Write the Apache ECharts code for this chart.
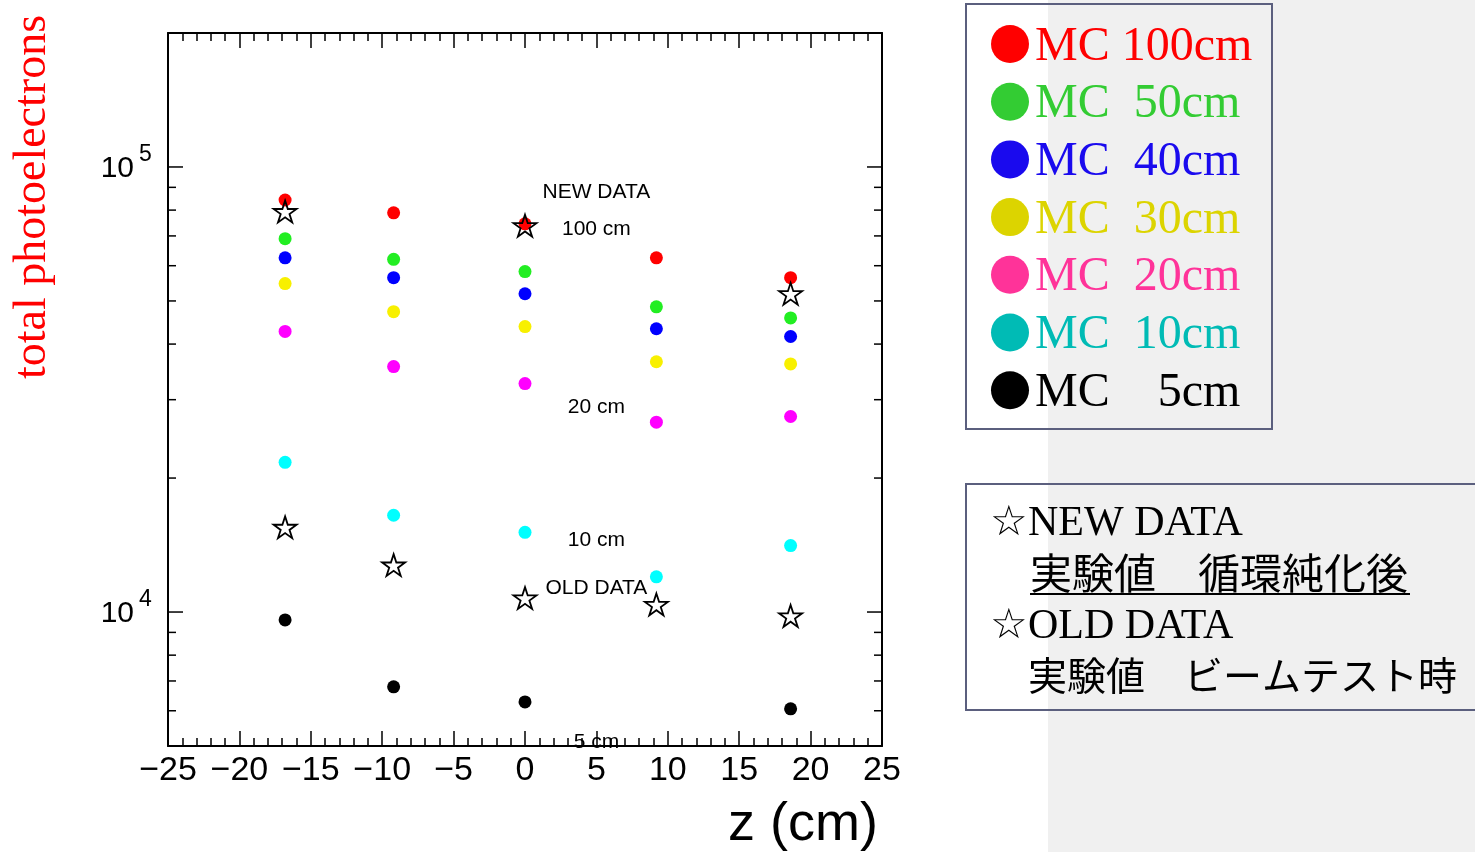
<!DOCTYPE html>
<html>
<head>
<meta charset="utf-8">
<script src="https://cdn.jsdelivr.net/npm/echarts/dist/echarts.min.js"></script>
<style>
html,body{margin:0;padding:0;background:#fff;}
#chart{width:1475px;height:852px;}
</style>
</head>
<body>
<div id="chart"></div>
<script>
// ---------- data ----------
const X_POS = [-16.8, -9.2, 0, 9.2, 18.6];
const MC_100 = [84300, 78900, 74500, 62500, 56400];
const MC_50  = [69000, 62000, 58200, 48500, 45800];
const MC_40  = [62500, 56400, 51900, 43300, 41600];
const MC_30  = [54700, 47300, 43800, 36500, 36100];
const MC_20  = [42700, 35600, 32600, 26700, 27500];
const MC_10  = [21700, 16500, 15100, 12000, 14100];
const MC_5   = [9600, 6790, 6280, null, 6060];
const NEW_X = [-16.8, 0, 18.6];
const NEW_Y = [79400, 73800, 51900];
const OLD_Y = [15500, 12750, 10750, 10400, 9800];
const ANNOT_TEXT = ['NEW DATA', '100 cm', '20 cm', '10 cm', 'OLD DATA', '5 cm'];
const ANNOT_X = [5, 5, 5, 5, 5, 5];
const ANNOT_Y = [87700, 72400, 28900, 14470, 11290, 5100];
const Y_MAJOR = [10000, 100000];
const Y_MINOR = [6000, 7000, 8000, 9000, 20000, 30000, 40000, 50000, 60000, 70000, 80000, 90000];
const X_MIN = -25, X_MAX = 25, Y_MIN = 5000, Y_MAX = 200000;
const LEGEND_TEXT = ['MC 100cm', 'MC  50cm', 'MC  40cm', 'MC  30cm', 'MC  20cm', 'MC  10cm', 'MC    5cm'];

// ---------- styles ----------
const PLOT_COLORS = ['#ff0000', '#22ee22', '#0000ff', '#f8f000', '#ff00ff', '#00ffff', '#000000'];
const LEGEND_COLORS = ['#ff0000', '#33cc33', '#1a0aee', '#dcd400', '#ff3399', '#00bbb5', '#000000'];
const MC_SERIES = [MC_100, MC_50, MC_40, MC_30, MC_20, MC_10, MC_5];
const STAR = 'path://M100,0 L122.45,69.1 L195.1,69.1 L136.3,111.8 L158.8,180.9 L100,138.2 L41.2,180.9 L63.7,111.8 L4.9,69.1 L77.55,69.1 Z';
const SANS = '"Liberation Sans", Arial, sans-serif';
const SERIF = '"Liberation Serif", "Times New Roman", serif';
const CJK = '"Noto Sans CJK JP", sans-serif';

const chart = echarts.init(document.getElementById('chart'), null, {renderer: 'canvas'});

function xAxisCfg(pos, showLabel) {
  return {
    type: 'value', position: pos, min: X_MIN, max: X_MAX, interval: 5,
    axisLine: {show: true, onZero: false, lineStyle: {color: '#000', width: 2}},
    axisTick: {show: true, inside: true, length: 15, lineStyle: {color: '#000', width: 1.5}},
    minorTick: {show: true, splitNumber: 5, length: 8, lineStyle: {color: '#000', width: 1.5}},
    splitLine: {show: false}, minorSplitLine: {show: false},
    axisLabel: {
      show: showLabel, margin: 8, color: '#000', fontSize: 34, fontFamily: SANS,
      formatter: v => v < 0 ? '\u2212' + Math.abs(v) : String(v)
    }
  };
}
function yAxisCfg(pos) {
  return {
    type: 'log', logBase: 10, position: pos, min: Y_MIN, max: Y_MAX,
    axisLine: {show: true, onZero: false, lineStyle: {color: '#000', width: 2}},
    axisTick: {show: false}, axisLabel: {show: false},
    splitLine: {show: false}, minorTick: {show: false}
  };
}

const series = [];
MC_SERIES.forEach((arr, i) => {
  series.push({
    type: 'scatter', name: LEGEND_TEXT[i], xAxisIndex: 0, yAxisIndex: 0,
    symbol: 'circle', symbolSize: 13, z: 3,
    itemStyle: {color: PLOT_COLORS[i], opacity: 1},
    data: X_POS.map((x, j) => [x, arr[j] == null ? '-' : arr[j]])
  });
});
series.push({
  type: 'scatter', name: 'NEW DATA', symbol: STAR, symbolKeepAspect: true, symbolSize: 23, z: 5,
  itemStyle: {color: 'rgba(255,255,255,0)', borderColor: '#000', borderWidth: 1.8, opacity: 1},
  data: NEW_X.map((x, j) => [x, NEW_Y[j]])
});
series.push({
  type: 'scatter', name: 'OLD DATA', symbol: STAR, symbolKeepAspect: true, symbolSize: 23, z: 5,
  itemStyle: {color: 'rgba(255,255,255,0)', borderColor: '#000', borderWidth: 1.8, opacity: 1},
  data: X_POS.map((x, j) => [x, OLD_Y[j]])
});
series.push({
  type: 'scatter', name: 'annotations', symbolSize: 0, z: 6, silent: true,
  itemStyle: {opacity: 1},
  label: {show: true, position: 'inside', formatter: '{b}', color: '#000', fontSize: 21, fontFamily: SANS, opacity: 1},
  data: ANNOT_TEXT.map((t, j) => ({name: t, value: [ANNOT_X[j], ANNOT_Y[j]]}))
});
series.push({
  type: 'custom', name: 'yticks', silent: true, clip: false, z: 4,
  data: Y_MAJOR.map(v => [X_MIN, v, 1]).concat(Y_MINOR.map(v => [X_MIN, v, 0])),
  renderItem: function (params, api) {
    const v = api.value(1);
    const major = api.value(2) === 1;
    const y = api.coord([X_MIN, v])[1];
    const cs = params.coordSys;
    const L = cs.x, R = cs.x + cs.width;
    const len = major ? 15 : 8;
    const st = {stroke: '#000', lineWidth: 1.5};
    const children = [
      {type: 'line', shape: {x1: L, y1: y, x2: L + len, y2: y}, style: st},
      {type: 'line', shape: {x1: R - len, y1: y, x2: R, y2: y}, style: st}
    ];
    if (major) {
      const e = Math.round(Math.log10(v));
      children.push({type: 'text', style: {text: '10', x: L - 34, y: y + 2, align: 'right', verticalAlign: 'middle', fontSize: 30, fontFamily: SANS, fill: '#000'}});
      children.push({type: 'text', style: {text: String(e), x: L - 29, y: y - 12, align: 'left', verticalAlign: 'middle', fontSize: 23, fontFamily: SANS, fill: '#000'}});
    }
    return {type: 'group', children: children};
  }
});

// graphic: background strip, titles, legend boxes
const graphic = [
  {type: 'rect', left: 1048, top: 0, z: -10, shape: {width: 427, height: 852}, style: {fill: '#f0f0f0'}},
  {type: 'text', x: 33, y: 197, rotation: Math.PI / 2,
   style: {text: 'total photoelectrons', fill: '#ff0000', fontSize: 46, fontFamily: SERIF, align: 'center', verticalAlign: 'middle'}},
  {type: 'text', x: 803, y: 825,
   style: {text: 'z (cm)', fill: '#000', fontSize: 54, fontFamily: SANS, align: 'center', verticalAlign: 'middle'}},
  {type: 'rect', shape: {x: 966, y: 4, width: 306, height: 425}, style: {fill: 'none', stroke: '#5b5f7e', lineWidth: 2}},
  {type: 'rect', shape: {x: 966, y: 484, width: 520, height: 226}, style: {fill: 'none', stroke: '#5b5f7e', lineWidth: 2}}
];
LEGEND_TEXT.forEach((t, i) => {
  const cy = 44 + i * 57.7;
  graphic.push({type: 'circle', shape: {cx: 1010, cy: cy, r: 19}, style: {fill: LEGEND_COLORS[i]}});
  graphic.push({type: 'text', x: 1035, y: cy + 3, style: {text: t, fill: LEGEND_COLORS[i], fontSize: 48, fontFamily: SERIF, align: 'left', verticalAlign: 'middle'}});
});
graphic.push({type: 'text', x: 990, y: 524, style: {text: '\u2606NEW DATA', fill: '#000', fontSize: 42, fontFamily: SERIF, align: 'left', verticalAlign: 'middle'}});
graphic.push({type: 'text', x: 1030, y: 573, style: {text: '実験値\u3000循環純化後', fill: '#000', fontSize: 42, fontFamily: CJK, align: 'left', verticalAlign: 'middle'}});
graphic.push({type: 'line', shape: {x1: 1030, y1: 594, x2: 1410, y2: 594}, style: {stroke: '#000', lineWidth: 2}});
graphic.push({type: 'text', x: 990, y: 627, style: {text: '\u2606OLD DATA', fill: '#000', fontSize: 42, fontFamily: SERIF, align: 'left', verticalAlign: 'middle'}});
graphic.push({type: 'text', x: 1028, y: 675, style: {text: '実験値\u3000ビームテスト時', fill: '#000', fontSize: 39, fontFamily: CJK, align: 'left', verticalAlign: 'middle'}});

chart.setOption({
  animation: false,
  backgroundColor: '#ffffff',
  grid: {left: 168, top: 33, width: 714, height: 713, containLabel: false},
  xAxis: [xAxisCfg('bottom', true), xAxisCfg('top', false)],
  yAxis: [yAxisCfg('left'), yAxisCfg('right')],
  series: series,
  graphic: graphic
});
</script>
</body>
</html>
